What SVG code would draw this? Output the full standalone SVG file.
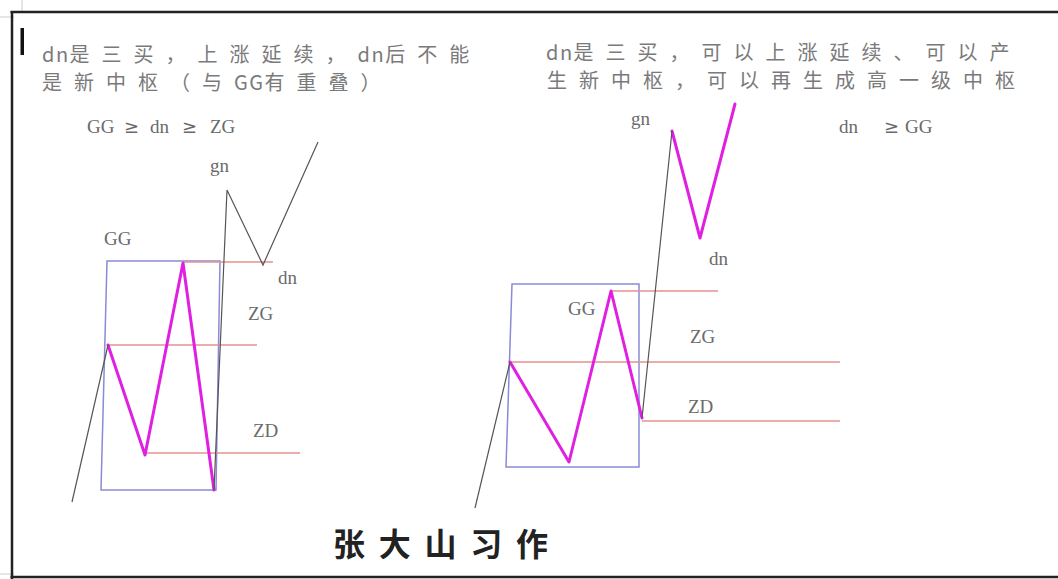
<svg xmlns="http://www.w3.org/2000/svg" width="1058" height="579" viewBox="0 0 1058 579">
<style>
.note{font-family:"Noto Sans CJK SC","Liberation Sans",sans-serif;font-size:20px;fill:#7a7a7a;letter-spacing:12px}
.note .l{letter-spacing:1.5px}
.lbl{font-family:"Liberation Serif","DejaVu Serif",serif;font-size:19px;fill:#6a6a6a}
.ge{font-family:"DejaVu Sans",sans-serif;font-size:18px;fill:#6a6a6a}
.box{fill:none;stroke:#8a8ad8;stroke-width:1.5}
.lvl{stroke:#e49090;stroke-width:1.5;fill:none}
.zig{fill:none;stroke:#e020e0;stroke-width:3;stroke-linejoin:round;stroke-linecap:round}
.gray{fill:none;stroke:#555;stroke-width:1.2}
.border{stroke:#222;stroke-width:2.5;fill:none}
.sign{font-family:"Noto Sans CJK SC",sans-serif;font-size:32px;font-weight:bold;fill:#222}
</style>
<rect width="1058" height="579" fill="#fff"/>
<g id="frame">
<line x1="0" y1="17" x2="14" y2="17" stroke="#ccc" stroke-width="1"/>
<line x1="22" y1="0" x2="22" y2="12" stroke="#ccc" stroke-width="1"/>
<line x1="0" y1="574" x2="14" y2="574" stroke="#ccc" stroke-width="1"/>
<line x1="10.5" y1="12" x2="1058" y2="12" class="border"/>
<line x1="12" y1="11" x2="12" y2="579" class="border"/>
<line x1="10.5" y1="577" x2="1058" y2="577" class="border"/>
<rect x="20.5" y="28" width="3.5" height="27" fill="#111"/>
</g>
<g id="text-left">
<text class="note" x="42" y="62"><tspan class="l">dn</tspan>是三买，上涨延续，<tspan class="l">dn</tspan>后不能</text>
<text class="note" x="42" y="90">是新中枢（与<tspan class="l">GG</tspan>有重叠）</text>
<text class="lbl" x="87" y="133">GG</text>
<text class="ge" x="124" y="133">≥</text>
<text class="lbl" x="150" y="133">dn</text>
<text class="ge" x="182" y="133">≥</text>
<text class="lbl" x="210" y="133">ZG</text>
</g>
<g id="text-right">
<text class="note" x="546" y="60"><tspan class="l">dn</tspan>是三买，可以上涨延续、可以产</text>
<text class="note" x="547" y="88">生新中枢，可以再生成高一级中枢</text>
<text class="lbl" x="839" y="133">dn</text>
<text class="ge" x="884" y="133">≥</text>
<text class="lbl" x="905" y="133">GG</text>
</g>
<g id="left-pivot">
<polygon class="box" points="107,261 220,261 216,490 101,490"/>
<line class="lvl" x1="183" y1="262" x2="273" y2="262"/>
<line class="lvl" x1="107" y1="345" x2="257" y2="345"/>
<line class="lvl" x1="145" y1="453" x2="300" y2="453"/>
<polyline class="zig" points="108,345 145,455 183,263 214,490"/>
<text class="lbl" x="104" y="245">GG</text>
<text class="lbl" x="248" y="320">ZG</text>
<text class="lbl" x="253" y="437">ZD</text>
</g>
<g id="left-extension">
<text class="lbl" x="210" y="172">gn</text>
<text class="lbl" x="278" y="284">dn</text>
</g>
<g id="right-pivot">
<polygon class="box" points="512,284 639,284 639,467 506,467"/>
<line class="lvl" x1="611" y1="291" x2="718" y2="291"/>
<line class="lvl" x1="510" y1="362" x2="840" y2="362"/>
<line class="lvl" x1="642" y1="421" x2="840" y2="421"/>
<polyline class="zig" points="510,362 569,462 611,291 642,418"/>
<text class="lbl" x="568" y="315">GG</text>
<text class="lbl" x="690" y="343">ZG</text>
<text class="lbl" x="688" y="413">ZD</text>
</g>
<g id="right-extension">
<polyline class="zig" points="672,131 700,238 735,104"/>
<text class="lbl" x="631" y="125">gn</text>
<text class="lbl" x="709" y="265">dn</text>
</g>
<g id="connectors">
<polyline class="gray" points="72,502 108,345"/>
<polyline class="gray" points="214,490 227,190 263,265 318,142"/>
<polyline class="gray" points="475,508 510,362"/>
<polyline class="gray" points="642,418 672,131"/>
</g>
<g id="signature">
<text class="sign" x="333" y="556" textLength="215" lengthAdjust="spacing">张大山习作</text>
</g>
</svg>
